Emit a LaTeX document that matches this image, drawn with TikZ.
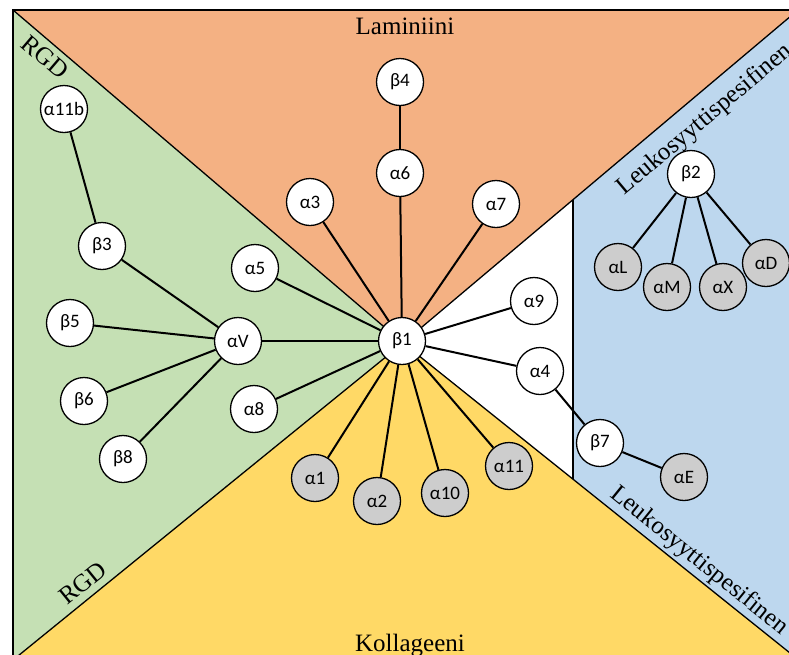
\documentclass[tikz,border=0pt]{standalone}
\usepackage{fontspec}
\setmainfont{Liberation Serif}
\newfontfamily\nodefont{Carlito}
\usepackage{tikz}
\definecolor{laminin}{HTML}{F4B183}
\definecolor{rgd}{HTML}{C5E0B4}
\definecolor{collagen}{HTML}{FFD966}
\definecolor{leuko}{HTML}{BDD7EE}
\definecolor{subgrey}{HTML}{CDCDCD}
\tikzset{unit/.style={circle,draw,line width=1.3pt,fill=white,minimum size=47pt,inner sep=0pt,
           font=\nodefont\fontsize{19}{19}\selectfont},
         grey/.style={unit,fill=subgrey},
         link/.style={line width=2pt},
         border/.style={line width=1.3pt},
         group/.style={font=\fontsize{25}{25}\selectfont,inner sep=0pt}}
\begin{document}
\begin{tikzpicture}[x=1pt,y=-1pt]
  \useasboundingbox (0,0) rectangle (789,654);
  \clip (0,0) rectangle (789,654);
  % corners of the sectors
  \coordinate (c) at (403,343);
  \coordinate (tl) at (13,10);
  \coordinate (tr) at (798,10);
  \coordinate (br) at (800,661);
  \coordinate (bl) at (13,660);
  \coordinate (wt) at (573,200);
  \coordinate (wb) at (573,479);
  % sectors
  \fill[laminin] (tl) -- (tr) -- (c) -- cycle;
  \fill[rgd] (tl) -- (c) -- (bl) -- cycle;
  \fill[collagen] (bl) -- (c) -- (br) -- cycle;
  \fill[white] (c) -- (wt) -- (wb) -- cycle;
  \fill[leuko] (wt) -- (tr) -- (800,10) -- (br) -- (wb) -- cycle;
  \draw[border] (bl) -- (tl) -- (800,10);
  \draw[border] (tl) -- (c) -- (bl);
  \draw[border] (tr) -- (c) -- (br);
  \draw[border] (wt) -- (wb);
  % sector names
  \node[group] (lam) at (405,26) {Laminiini};
  \node[group] (col) at (410,646) {Kollageeni};
  \node[group,rotate=-40.5] (rgdt) at (45,57) {RGD};
  \node[group,rotate=39] (rgdb) at (83,583) {RGD};
  \node[group,rotate=40] (leut) at (705,120) {Leukosyyttispesifinen};
  \node[group,rotate=-39] (leub) at (699,561) {Leukosyyttispesifinen};
  % subunits
  \node[unit] (b1) at (402,341) {β1};
  \node[unit] (b4) at (400,82) {β4};
  \node[unit] (a6) at (400,173) {α6};
  \node[unit] (a3) at (310,202) {α3};
  \node[unit] (a7) at (496,204) {α7};
  \node[unit] (a11b) at (64,109) {α11b};
  \node[unit] (b3) at (102,246) {β3};
  \node[unit] (a5) at (255,268) {α5};
  \node[unit] (b5) at (70,323) {β5};
  \node[unit] (aV) at (238,341) {αV};
  \node[unit] (b6) at (84,401) {β6};
  \node[unit] (a8) at (254,409) {α8};
  \node[unit] (b8) at (123,459) {β8};
  \node[unit] (a9) at (534,301) {α9};
  \node[unit] (a4) at (540,371) {α4};
  \node[unit] (b7) at (600,443) {β7};
  \node[grey] (aE) at (684,477) {αE};
  \node[unit] (b2) at (691,174) {β2};
  \node[grey] (aL) at (618,267) {αL};
  \node[grey] (aM) at (667,287) {αM};
  \node[grey] (aX) at (723,287) {αX};
  \node[grey] (aD) at (766,263) {αD};
  \node[grey] (a1) at (315,478) {α1};
  \node[grey] (a2) at (377,501) {α2};
  \node[grey] (a10) at (445,493) {α10};
  \node[grey] (a11) at (509,466) {α11};
  % pairings
  \foreach \s in {a6,a3,a7,a5,aV,a8,a9,a4,a1,a2,a10,a11}
    \draw[link] (b1) -- (\s);
  \draw[link] (b4) -- (a6);
  \draw[link] (a11b) -- (b3);
  \foreach \s in {b3,b5,b6,b8}
    \draw[link] (aV) -- (\s);
  \draw[link] (a4) -- (b7) -- (aE);
  \foreach \s in {aL,aM,aX,aD}
    \draw[link] (b2) -- (\s);
\end{tikzpicture}
\end{document}
